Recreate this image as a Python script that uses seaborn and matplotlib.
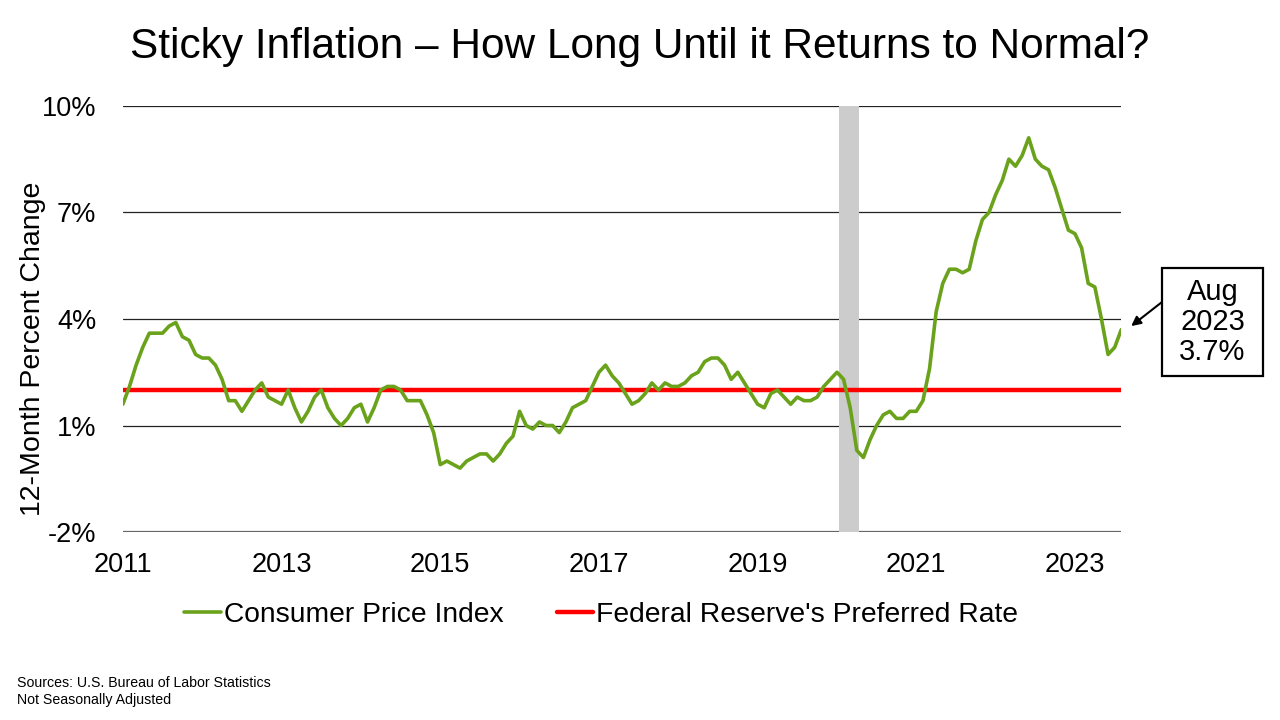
import matplotlib.pyplot as plt
import matplotlib.patches as mpatches
import seaborn as sns
import pandas as pd

cpi_2011 = [1.6, 2.1, 2.7, 3.2, 3.6, 3.6, 3.6, 3.8, 3.9, 3.5, 3.4, 3.0]
cpi_2012 = [2.9, 2.9, 2.7, 2.3, 1.7, 1.7, 1.4, 1.7, 2.0, 2.2, 1.8, 1.7]
cpi_2013 = [1.6, 2.0, 1.5, 1.1, 1.4, 1.8, 2.0, 1.5, 1.2, 1.0, 1.2, 1.5]
cpi_2014 = [1.6, 1.1, 1.5, 2.0, 2.1, 2.1, 2.0, 1.7, 1.7, 1.7, 1.3, 0.8]
cpi_2015 = [-0.1, 0.0, -0.1, -0.2, 0.0, 0.1, 0.2, 0.2, 0.0, 0.2, 0.5, 0.7]
cpi_2016 = [1.4, 1.0, 0.9, 1.1, 1.0, 1.0, 0.8, 1.1, 1.5, 1.6, 1.7, 2.1]
cpi_2017 = [2.5, 2.7, 2.4, 2.2, 1.9, 1.6, 1.7, 1.9, 2.2, 2.0, 2.2, 2.1]
cpi_2018 = [2.1, 2.2, 2.4, 2.5, 2.8, 2.9, 2.9, 2.7, 2.3, 2.5, 2.2, 1.9]
cpi_2019 = [1.6, 1.5, 1.9, 2.0, 1.8, 1.6, 1.8, 1.7, 1.7, 1.8, 2.1, 2.3]
cpi_2020 = [2.5, 2.3, 1.5, 0.3, 0.1, 0.6, 1.0, 1.3, 1.4, 1.2, 1.2, 1.4]
cpi_2021 = [1.4, 1.7, 2.6, 4.2, 5.0, 5.4, 5.4, 5.3, 5.4, 6.2, 6.8, 7.0]
cpi_2022 = [7.5, 7.9, 8.5, 8.3, 8.6, 9.1, 8.5, 8.3, 8.2, 7.7, 7.1, 6.5]
cpi_2023 = [6.4, 6.0, 5.0, 4.9, 4.0, 3.0, 3.2, 3.7]

cpi = (cpi_2011 + cpi_2012 + cpi_2013 + cpi_2014 + cpi_2015 + cpi_2016 + cpi_2017
       + cpi_2018 + cpi_2019 + cpi_2020 + cpi_2021 + cpi_2022 + cpi_2023)
months = list(range(len(cpi)))  # months since Jan 2011
fed_target = 2.0
recession_months = [108.3, 111.3]  # Feb-Apr 2020
year_labels = ["2011", "2013", "2015", "2017", "2019", "2021", "2023"]
y_ticks = [-2, 1, 4, 7, 10]

df = pd.DataFrame({"month": months, "cpi": cpi})

sns.set_theme(style="white", rc={"text.color": "black", "axes.labelcolor": "black",
                                 "xtick.color": "black", "ytick.color": "black"})
plt.rcParams["font.family"] = ["Liberation Sans", "DejaVu Sans"]

fig = plt.figure(figsize=(12.8, 7.2), dpi=100)
ax = fig.add_axes([0.096, 0.261, 0.78, 0.592])

ax.axvspan(recession_months[0], recession_months[1], color="#cccccc", zorder=1, lw=0)
for yv in y_ticks[1:]:
    ax.axhline(yv, color="#222222", lw=0.9, zorder=0)
ax.axhline(y_ticks[0], color="#666666", lw=1.6, zorder=0)

ax.axhline(fed_target, color="#ff0000", lw=3.2, zorder=2, label="Federal Reserve's Preferred Rate")
sns.lineplot(data=df, x="month", y="cpi", ax=ax, color="#6aa31b", lw=2.6, zorder=3,
             label="Consumer Price Index")

ax.set_xlim(0, months[-1])
ax.set_ylim(-2, 10)
ax.set_xticks(range(0, 12 * 13, 24))
ax.set_xticklabels(year_labels)
ax.set_yticks(y_ticks)
ax.set_yticklabels([f"{v}%" for v in y_ticks])
ax.tick_params(axis="both", labelsize=19.5, length=0)
ax.tick_params(axis="x", pad=14)
ax.tick_params(axis="y", pad=19)
for s in ax.spines.values():
    s.set_visible(False)
ax.set_xlabel("")
ax.set_ylabel("12-Month Percent Change", fontsize=20.5)
ax.yaxis.set_label_coords(-0.077, 0.43)

handles, labels = ax.get_legend_handles_labels()
order = [labels.index("Consumer Price Index"), labels.index("Federal Reserve's Preferred Rate")]
ax.legend([handles[i] for i in order], [labels[i] for i in order],
          loc="upper center", bbox_to_anchor=(0.479, -0.105), ncol=2, frameon=False,
          fontsize=20.3, handlelength=1.3, handletextpad=0.1, columnspacing=1.9)

fig.suptitle("Sticky Inflation \u2013 How Long Until it Returns to Normal?",
             fontsize=30.5, y=0.962)

# callout box for the latest reading
fig.patches.append(mpatches.Rectangle((1162 / 1280, 1 - 376 / 720), 101 / 1280, 108 / 720,
                                      transform=fig.transFigure, fc="white", ec="black",
                                      lw=1.6, zorder=5))
fig.text(1212.5 / 1280, 1 - 322 / 720, "Aug\n2023\n3.7%", ha="center", va="center",
         fontsize=21, linespacing=1.1, zorder=6)
ax.annotate("", xy=(months[-1] + 1.5, cpi[-1] + 0.1),
            xytext=(1162, 720 - 302), textcoords="figure pixels",
            arrowprops=dict(arrowstyle="-|>", color="black", lw=1.5,
                            shrinkA=0, shrinkB=0, mutation_scale=14),
            annotation_clip=False)

fig.text(0.013, 0.018, "Sources: U.S. Bureau of Labor Statistics\nNot Seasonally Adjusted",
         fontsize=10.2, va="bottom", linespacing=1.25)

fig.savefig("out.png", dpi=100)
